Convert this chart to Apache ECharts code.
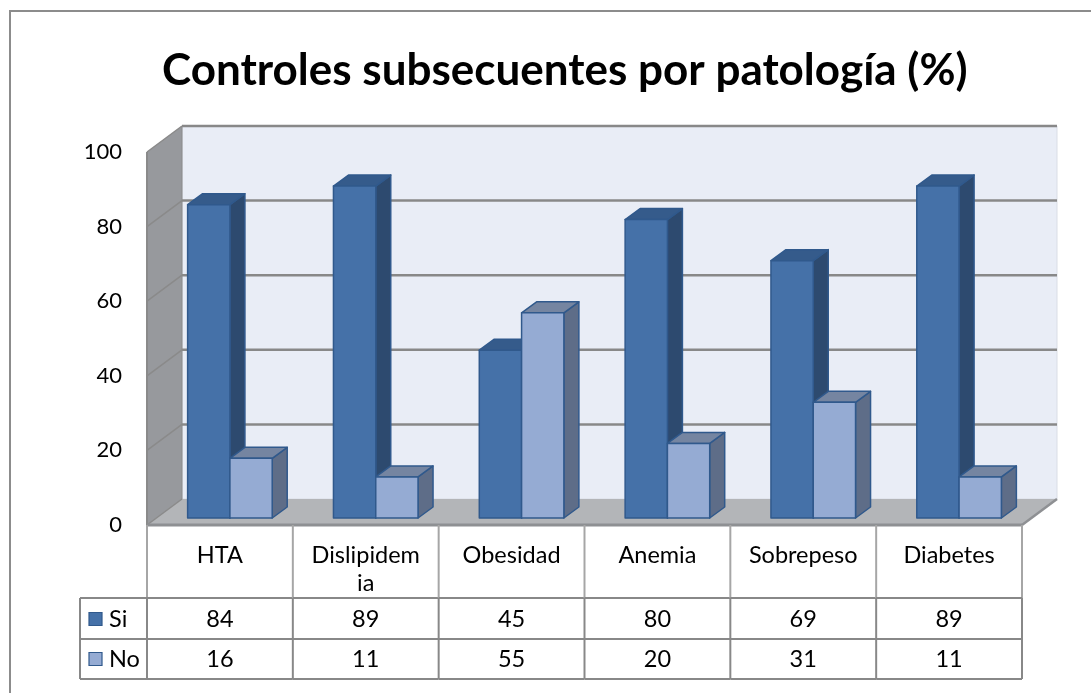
<!DOCTYPE html>
<html>
<head>
<meta charset="utf-8">
<script src="https://cdn.jsdelivr.net/npm/echarts@6/dist/echarts.min.js"></script>
<style>
  html, body { margin: 0; padding: 0; background: #fff; }
  #chart { width: 1091px; height: 693px; }
</style>
</head>
<body>
<div id="chart"></div>
<script>
// datos
const categories = ["HTA", "Dislipidemia", "Obesidad", "Anemia", "Sobrepeso", "Diabetes"];
const siValues = [84, 89, 45, 80, 69, 89];
const noValues = [16, 11, 55, 20, 31, 11];
const yTicks = [0, 20, 40, 60, 80, 100];
const seriesNames = ["Si", "No"];

// profundidad del cubo 3D (px)
const WALL_DX = 35, WALL_DY = -26;
const BAR_OX = 10, BAR_OY = -7;
const BAR_DX = 15, BAR_DY = -11;
const BAR_FRAC = 0.29;

const colors = {
  Si: { front: "#4571a8", side: "#2d4a6f", top: "#355b8b" },
  No: { front: "#95abd3", side: "#5e6d88", top: "#7585a1" },
  border: "#30598c",
};

const FONT = "Lato, 'Open Sans', sans-serif";
const TABLE_FS = 23.5;

function line(x1, y1, x2, y2, color, width) {
  return {
    type: "line",
    shape: { x1: x1, y1: y1, x2: x2, y2: y2 },
    style: { stroke: color, lineWidth: width },
  };
}

// paredes, piso y líneas de cuadrícula
function renderFrame(params, api) {
  const cs = params.coordSys;
  const x0 = cs.x, x1 = cs.x + cs.width;
  const yB = api.coord([0, 0])[1];
  const yT = api.coord([0, 100])[1];
  const ch = [];
  ch.push({
    type: "polygon",
    shape: { points: [[x0 + WALL_DX, yT + WALL_DY], [x1 + WALL_DX, yT + WALL_DY], [x1 + WALL_DX, yB + WALL_DY], [x0 + WALL_DX, yB + WALL_DY]] },
    style: { fill: "#e9edf6", stroke: "#d9dde6", lineWidth: 1 },
  });
  ch.push({
    type: "polygon",
    shape: { points: [[x0, yB], [x0, yT], [x0 + WALL_DX, yT + WALL_DY], [x0 + WALL_DX, yB + WALL_DY]] },
    style: { fill: "#97999d" },
  });
  ch.push({
    type: "polygon",
    shape: { points: [[x0, yB], [x1, yB], [x1 + WALL_DX, yB + WALL_DY], [x0 + WALL_DX, yB + WALL_DY]] },
    style: { fill: "#b3b5b8" },
  });
  yTicks.forEach(function (v) {
    const y = api.coord([0, v])[1];
    if (v > 0) {
      ch.push(line(x0 + WALL_DX, y + WALL_DY, x1 + WALL_DX, y + WALL_DY, "#888", 2.5));
    }
    ch.push(line(x0, y, x0 + WALL_DX, y + WALL_DY, "#8a8a8a", 1.5));
  });
  ch.push(line(x0, yT, x0, yB + 2, "#8a8a8a", 2));
  ch.push(line(x0 + WALL_DX, yT + WALL_DY, x0 + WALL_DX, yB + WALL_DY, "#8a8a8a", 1));
  ch.push(line(x0, yB, x1, yB, "#8e9093", 3));
  ch.push(line(x1, yB, x1 + WALL_DX, yB + WALL_DY, "#8e9093", 2.5));
  return { type: "group", children: ch };
}

function barRenderer(name, slot) {
  const c = colors[name];
  return function (params, api) {
    const i = api.value(0), v = api.value(1);
    const band = api.size([1, 0])[0];
    const w = band * BAR_FRAC;
    const cx = api.coord([i, 0])[0];
    const xl = cx + (slot === 0 ? -w : 0) + BAR_OX;
    const xr = xl + w;
    const yb = api.coord([i, 0])[1] + BAR_OY;
    const yt = api.coord([i, v])[1] + BAR_OY;
    const st = { stroke: colors.border, lineWidth: 1.5, lineJoin: "round" };
    return {
      type: "group",
      children: [
        { type: "polygon", shape: { points: [[xr, yt], [xr + BAR_DX, yt + BAR_DY], [xr + BAR_DX, yb + BAR_DY], [xr, yb]] }, style: Object.assign({ fill: c.side }, st) },
        { type: "polygon", shape: { points: [[xl, yt], [xl + BAR_DX, yt + BAR_DY], [xr + BAR_DX, yt + BAR_DY], [xr, yt]] }, style: Object.assign({ fill: c.top }, st) },
        { type: "rect", shape: { x: xl, y: yt, width: w, height: yb - yt }, style: Object.assign({ fill: c.front }, st) },
      ],
    };
  };
}

// tabla de datos
const ROW_HEAD = 73, ROW_SI = 114, ROW_NO = 154;
function renderTable(params, api) {
  const i = api.value(0);
  const band = api.size([1, 0])[0];
  const cx = api.coord([i, 0])[0];
  const yB = api.coord([i, 0])[1];
  const l = cx - band / 2, r = cx + band / 2;
  const ch = [];
  const textStyle = function (t, y) {
    return { type: "text", style: { text: t, x: cx, y: y, align: "center", verticalAlign: "middle", fontFamily: FONT, fontSize: TABLE_FS, fill: "#000" } };
  };
  ch.push(line(l, yB, l, yB + ROW_HEAD, "#a6a6a6", 2));
  ch.push(line(l, yB + ROW_HEAD, l, yB + ROW_NO, "#888", 2));
  if (i === categories.length - 1) {
    ch.push(line(r, yB, r, yB + ROW_HEAD, "#a6a6a6", 2));
    ch.push(line(r, yB + ROW_HEAD, r, yB + ROW_NO, "#888", 2));
  }
  [ROW_HEAD, ROW_SI, ROW_NO].forEach(function (dy) {
    ch.push(line(l, yB + dy, r, yB + dy, "#888", 2));
  });
  ch.push(textStyle(String(api.value(1)), yB + 94));
  ch.push(textStyle(String(api.value(2)), yB + 134));
  if (i === 0) {
    const ll = l - 67;
    [ROW_HEAD, ROW_SI, ROW_NO].forEach(function (dy) {
      ch.push(line(ll, yB + dy, l, yB + dy, "#888", 2));
    });
    ch.push(line(ll, yB + ROW_HEAD, ll, yB + ROW_NO, "#888", 2));
    seriesNames.forEach(function (n, k) {
      const yc = yB + 94 + k * 40;
      ch.push({ type: "rect", shape: { x: ll + 9, y: yc - 6.5, width: 13, height: 13 }, style: { fill: colors[n].front, stroke: colors.border, lineWidth: 1.2 } });
      ch.push({ type: "text", style: { text: n, x: ll + 29, y: yc, align: "left", verticalAlign: "middle", fontFamily: FONT, fontSize: TABLE_FS, fill: "#000" } });
    });
  }
  return { type: "group", children: ch };
}

const chart = echarts.init(document.getElementById("chart"));
chart.setOption({
  backgroundColor: "#fff",
  animation: false,
  title: {
    text: "Controles subsecuentes por patología (%)",
    left: 157,
    top: 44,
    textStyle: { fontFamily: FONT, fontSize: 44, fontWeight: "bold", color: "#000" },
  },
  graphic: [{
    type: "rect",
    shape: { x: 10, y: 11, width: 1100, height: 700 },
    style: { fill: null, stroke: "#8c8c8c", lineWidth: 2 },
    silent: true,
    z: -1,
  }],
  grid: { left: 147, right: 69, top: 152, bottom: 168 },
  xAxis: {
    type: "category",
    data: categories,
    axisLine: { show: false },
    axisTick: { show: false },
    splitLine: { show: false },
    axisLabel: {
      interval: 0,
      margin: 16,
      fontFamily: FONT,
      fontSize: TABLE_FS,
      lineHeight: 28,
      color: "#000",
      formatter: function (s) { return s.length > 10 ? s.slice(0, 10) + "\n" + s.slice(10) : s; },
    },
  },
  yAxis: {
    type: "value",
    min: 0,
    max: 100,
    interval: 20,
    axisLine: { show: false },
    axisTick: { show: false },
    splitLine: { show: false },
    axisLabel: { margin: 25, fontFamily: FONT, fontSize: 22, color: "#000", padding: [6, 0, 0, 0] },
  },
  series: [
    { type: "custom", name: "frame", renderItem: renderFrame, data: [[0, 0]], z: 1, silent: true },
    { type: "custom", name: "Si", renderItem: barRenderer("Si", 0), data: siValues.map(function (v, i) { return [i, v]; }), encode: { x: 0, y: 1 }, z: 2 },
    { type: "custom", name: "No", renderItem: barRenderer("No", 1), data: noValues.map(function (v, i) { return [i, v]; }), encode: { x: 0, y: 1 }, z: 3 },
    { type: "custom", name: "tabla", renderItem: renderTable, data: categories.map(function (c, i) { return [i, siValues[i], noValues[i]]; }), encode: { x: 0, y: 1 }, z: 4, silent: true },
  ],
});
</script>
</body>
</html>
